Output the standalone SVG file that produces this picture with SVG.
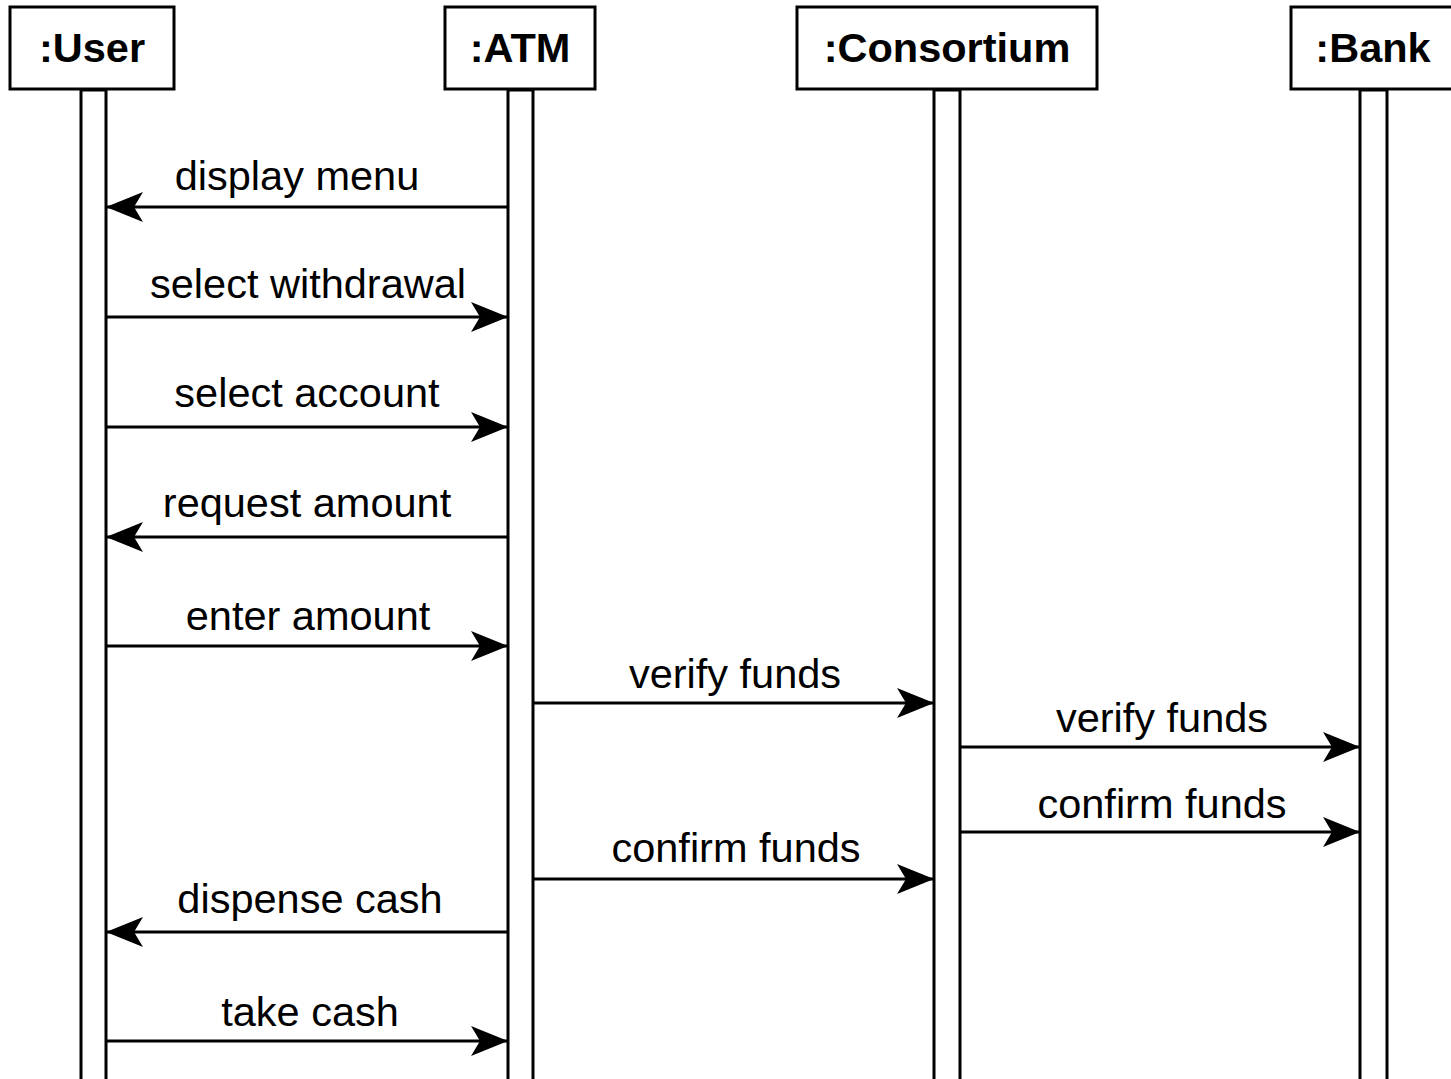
<svg xmlns="http://www.w3.org/2000/svg" width="1451" height="1079" viewBox="0 0 1451 1079">
<style>
.box{fill:#fff;stroke:#000;stroke-width:3}
.life{fill:#fff;stroke:#000;stroke-width:3}
.hdr{font-family:"Liberation Sans",Arial,sans-serif;font-weight:bold;font-size:41.5px;text-anchor:middle;fill:#000}
.lbl{font-family:"Liberation Sans",Arial,sans-serif;font-size:41.5px;text-anchor:middle;fill:#000}
.msg{stroke:#000;stroke-width:3;fill:none}
</style>
<defs>
<marker id="ah" markerUnits="userSpaceOnUse" markerWidth="38" markerHeight="32" viewBox="0 0 38 32" refX="37" refY="16" orient="auto">
<path d="M0,1 L37,16 L0,31 L9,16 Z" fill="#000"/>
</marker>
</defs>
<rect width="1451" height="1079" fill="#fff"/>
<g id="node-user">
<rect class="life" x="81" y="90" width="25" height="995"/>
<rect class="box" x="10" y="7" width="164" height="82"/>
<text class="hdr" x="92" y="62">:User</text>
</g>
<g id="node-atm">
<rect class="life" x="508" y="90" width="25" height="995"/>
<rect class="box" x="445" y="7" width="150" height="82"/>
<text class="hdr" x="520" y="62">:ATM</text>
</g>
<g id="node-consortium">
<rect class="life" x="934" y="90" width="26" height="995"/>
<rect class="box" x="797" y="7" width="300" height="82"/>
<text class="hdr" x="947" y="62">:Consortium</text>
</g>
<g id="node-bank">
<rect class="life" x="1360" y="90" width="27" height="995"/>
<rect class="box" x="1291" y="7" width="180" height="82"/>
<text class="hdr" x="1373" y="62">:Bank</text>
</g>
<g id="connectors">
<line class="msg" x1="508" y1="207" x2="106" y2="207" marker-end="url(#ah)"/>
<text class="lbl" x="297" y="190">display menu</text>
<line class="msg" x1="106" y1="317" x2="508" y2="317" marker-end="url(#ah)"/>
<text class="lbl" x="308" y="298">select withdrawal</text>
<line class="msg" x1="106" y1="427" x2="508" y2="427" marker-end="url(#ah)"/>
<text class="lbl" x="307" y="407">select account</text>
<line class="msg" x1="508" y1="537" x2="106" y2="537" marker-end="url(#ah)"/>
<text class="lbl" x="307" y="517">request amount</text>
<line class="msg" x1="106" y1="646" x2="508" y2="646" marker-end="url(#ah)"/>
<text class="lbl" x="308" y="630">enter amount</text>
<line class="msg" x1="533" y1="703" x2="934" y2="703" marker-end="url(#ah)"/>
<text class="lbl" x="735" y="688">verify funds</text>
<line class="msg" x1="960" y1="747" x2="1360" y2="747" marker-end="url(#ah)"/>
<text class="lbl" x="1162" y="732">verify funds</text>
<line class="msg" x1="960" y1="832" x2="1360" y2="832" marker-end="url(#ah)"/>
<text class="lbl" x="1162" y="818">confirm funds</text>
<line class="msg" x1="533" y1="879" x2="934" y2="879" marker-end="url(#ah)"/>
<text class="lbl" x="736" y="862">confirm funds</text>
<line class="msg" x1="508" y1="932" x2="106" y2="932" marker-end="url(#ah)"/>
<text class="lbl" x="310" y="913">dispense cash</text>
<line class="msg" x1="106" y1="1041" x2="508" y2="1041" marker-end="url(#ah)"/>
<text class="lbl" x="310" y="1026">take cash</text>
</g>
</svg>
